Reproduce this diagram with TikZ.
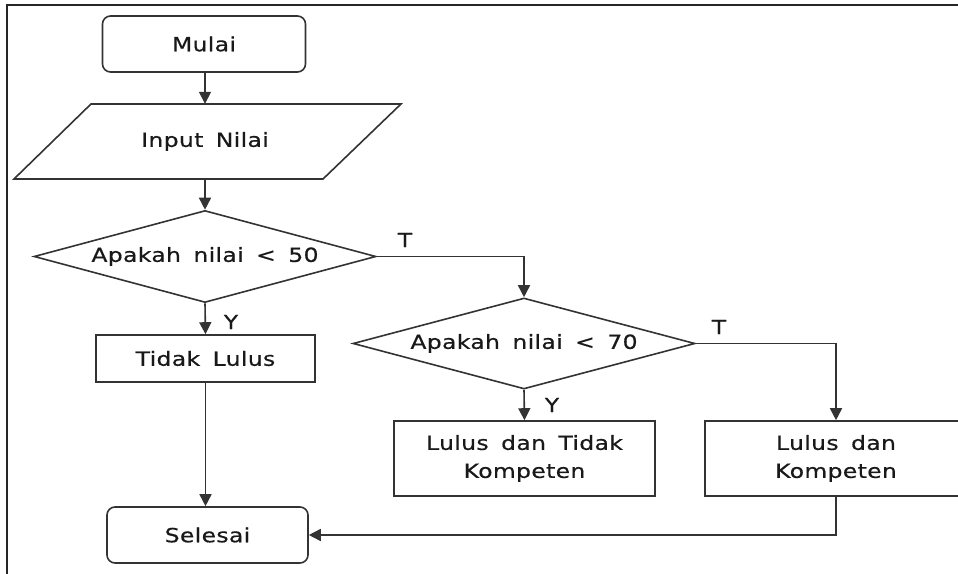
\documentclass[tikz,border=0pt]{standalone}
\usepackage{fontspec}
\setmainfont{DejaVu Sans}[FakeStretch=1.2,LetterSpace=2,WordSpace=1.6,FakeBold=0.6]
\usetikzlibrary{arrows.meta,shapes.geometric}
\begin{document}
\begin{tikzpicture}[x=1bp,y=-1bp,
  every node/.style={font=\fontsize{19.5bp}{28bp}\selectfont, text=black!90},
  ln/.style={draw=black!80, line width=1.6bp},
  arr/.style={ln, -{Triangle[width=12bp,length=12bp]}},
  term/.style={ln, rounded corners=8bp, minimum height=56bp, inner sep=0},
  proc/.style={ln, rectangle, inner sep=0, align=center},
  dec/.style={ln, diamond, aspect=3.7, inner sep=0, minimum width=342bp, minimum height=92bp},
  lbl/.style={inner sep=0}
]
\useasboundingbox (0,0) rectangle (958,574);
\draw[line width=2bp, black!85] (7,574) -- (7,5) -- (958,5);

\node[term, minimum width=203bp] (mulai) at (204,44) {Mulai};
\node[inner sep=0, minimum width=230bp, minimum height=75bp] (in) at (205,141.5) {Input Nilai};
\draw[ln] (91,104) -- (401,104) -- (323,179) -- (14,179) -- cycle;
\node[dec] (d1) at (205,256.5) {Apakah nilai < 50};
\node[proc, minimum width=219bp, minimum height=47bp] (tl) at (205.5,358.5) {Tidak Lulus};
\node[dec, minimum height=91bp] (d2) at (524,343.5) {Apakah nilai < 70};
\node[proc, minimum width=261bp, minimum height=75bp] (ldtk) at (524.5,458.5) {Lulus dan Tidak\\Kompeten};
\node[proc, minimum width=262bp, minimum height=75bp] (ldk) at (836,458.5) {Lulus dan\\Kompeten};
\node[term, minimum width=201bp] (sel) at (207.5,535) {Selesai};

\draw[arr] (mulai.south -| in.north) -- (in.north);
\draw[arr] (in.south) -- (d1.north);
\draw[arr] (d1.south) -- (tl.north);
\draw[arr] (d1.east) -| (d2.north);
\draw[arr] (d2.south) -- (ldtk.north);
\draw[arr] (d2.east) -| (ldk.north);
\draw[arr] (tl.south) -- (tl.south |- sel.north);
\draw[arr] (ldk.south) |- (sel.east);

\node[lbl] (t1) at (405,240) {T};
\node[lbl] (y1) at (231,322) {Y};
\node[lbl] (t2) at (719,327) {T};
\node[lbl] (y2) at (552,405) {Y};
\end{tikzpicture}
\end{document}
